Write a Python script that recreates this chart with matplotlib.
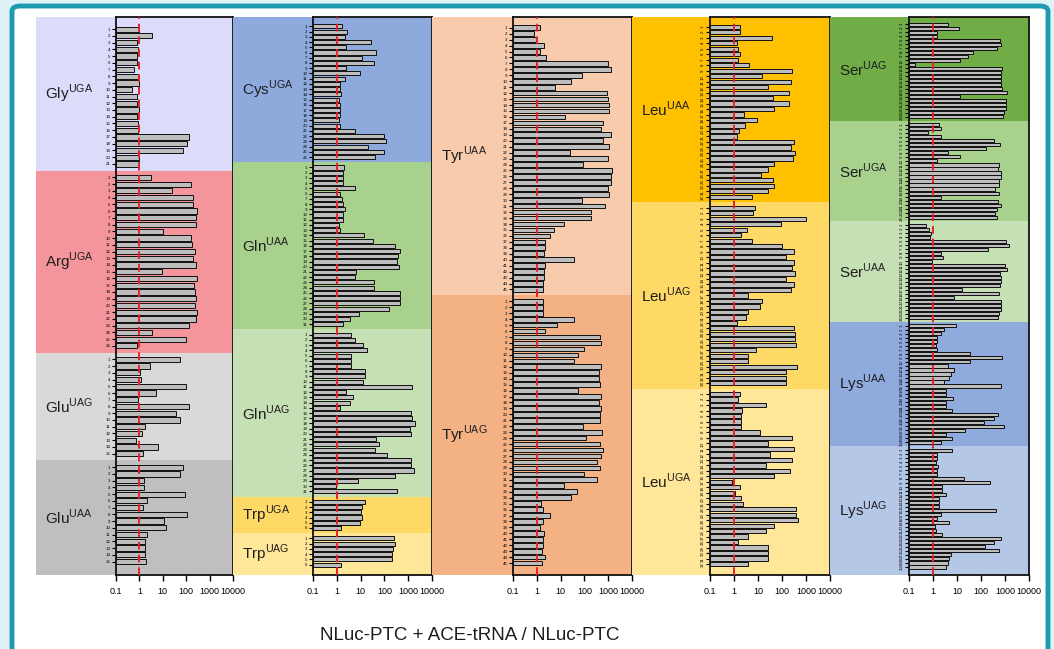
import matplotlib.pyplot as plt
import numpy as np
from matplotlib.patches import FancyBboxPatch
from matplotlib.transforms import blended_transform_factory

plt.rcParams['font.family'] = ['Liberation Sans', 'DejaVu Sans']

# ---- data (fold change) ----
gly_uga = [1.0, 3.5, 0.8, 0.9, 0.8, 0.8, 0.6, 0.9, 1.0, 0.5, 0.8, 0.8, 1.0, 0.8, 0.9,
           0.9, 130, 110, 75, 1.0, 1.0]
arg_uga = [3.2, 160, 25, 190, 190, 280, 270, 270, 10, 160, 180, 230, 200, 250, 9,
           280, 220, 230, 270, 240, 300, 250, 130, 3.5, 100, 0.8]
glu_uag = [57, 2.8, 1.1, 1.2, 100, 5, 0.9, 130, 37, 57, 1.8, 1.3, 0.7, 6, 1.4]
glu_uaa = [70, 57, 1.6, 1.5, 90, 2.1, 1.4, 110, 11, 14, 2.1, 1.8, 1.7, 1.7, 1.9]

cys_uga = [1.6, 2.8, 2.2, 27, 2.5, 44, 12, 35, 2.4, 9, 2.2, 1.3, 1.3, 1.5, 1.2, 1.3,
           1.3, 1.3, 1.2, 1.3, 6, 93, 120, 20, 100, 40]
gln_uaa = [2.1, 1.8, 1.8, 1.9, 6, 1.3, 1.6, 1.8, 2.2, 1.9, 1.8, 1.2, 1.3, 14, 32, 290,
           440, 370, 350, 410, 6.6, 5.8, 35, 37, 440, 440, 440, 160, 8.5, 3.7, 1.8]
gln_uag = [4, 6, 13, 18, 4, 4, 4, 15, 15, 13, 1400, 2.5, 5, 3.5, 1.4, 1300, 1500, 1900,
           1200, 1300, 45, 60, 40, 130, 1300, 1300, 1800, 280, 8, 0.9, 350]
trp_uga = [16, 12, 10, 11, 9, 1.5]
trp_uag = [250, 280, 240, 200, 200, 1.5]

tyr_uaa = [1.3, 0.8, 0.9, 2.1, 1.3, 2.5, 1000, 1250, 80, 27, 6, 850, 1000, 1100, 1100,
           16, 610, 520, 1250, 610, 1050, 25, 1000, 85, 1400, 1300, 1250, 950, 1100, 78,
           770, 190, 190, 14, 5.2, 3.7, 2.2, 2.2, 2.0, 35, 2.2, 2.0, 2.1, 1.9, 1.8]
tyr_uag = [1.8, 1.8, 1.8, 37, 7.2, 2.2, 440, 480, 93, 52, 35, 480, 410, 410, 440, 52,
           520, 410, 480, 440, 440, 85, 550, 120, 440, 610, 480, 350, 440, 93, 350, 14,
           49, 27, 1.5, 1.9, 3.5, 1.9, 1.3, 2.0, 1.9, 1.8, 1.6, 2.2, 1.6]

leu_uaa = [1.8, 1.8, 37, 1.3, 1.5, 1.8, 1.4, 4.1, 270, 15, 240, 27, 200, 41, 190, 45,
           2.5, 8.8, 3.0, 1.6, 1.3, 330, 240, 350, 300, 48, 25, 13, 41, 45, 25, 5.7]
leu_uag = [7.2, 6.3, 1000, 87, 3.5, 1.9, 5.7, 100, 330, 150, 330, 250, 350, 150, 330,
           240, 3.7, 15, 12, 3.7, 3.2, 1.3, 330, 350, 350, 370, 8, 4, 4, 420, 150, 150, 150]
leu_uga = [1.8, 1.5, 21, 2.1, 1.9, 1.9, 2.0, 12, 270, 27, 330, 32, 250, 21, 210, 45,
           0.8, 1.7, 1.1, 1.9, 2.3, 380, 380, 450, 45, 21, 4, 1.5, 27, 27, 25, 3.7]

ser_uag = [4.4, 12, 1.4, 1.4, 620, 650, 470, 47, 29, 13, 0.17, 760, 700, 700, 700, 700,
           760, 1250, 13, 1050, 1050, 1050, 900, 800]
ser_uga = [1.8, 2.1, 0.6, 2.1, 340, 620, 160, 4.4, 13, 1.4, 560, 510, 650, 650, 560,
           560, 400, 560, 2.1, 510, 650, 470, 400, 450]
ser_uaa = [0.5, 0.65, 0.85, 0.77, 1150, 1500, 200, 2.1, 2.5, 0.9, 1000, 1250, 620, 650,
           650, 620, 16, 560, 7.2, 650, 650, 650, 560, 500]
lys_uaa = [9.1, 2.8, 2.1, 1.5, 1.5, 1.3, 1.4, 34, 770, 34, 4.4, 7.7, 5.5, 4.7, 2.8, 650,
           3.4, 3.6, 6.5, 3.6, 3.4, 6.1, 500, 340, 130, 900, 21, 3.6, 6.1, 2.1]
lys_uag = [6.1, 1.5, 1.5, 1.3, 1.6, 1.4, 1.5, 19, 240, 2.4, 2.4, 3.4, 1.7, 1.7, 1.7, 440,
           2.1, 1.5, 4.7, 1.2, 1.3, 2.4, 650, 340, 150, 560, 5.5, 4.7, 4.4, 3.6]

columns = [
    [("Gly", "UGA", gly_uga, "#dcdcfa"), ("Arg", "UGA", arg_uga, "#f4959b"),
     ("Glu", "UAG", glu_uag, "#d9d9d9"), ("Glu", "UAA", glu_uaa, "#bfbfbf")],
    [("Cys", "UGA", cys_uga, "#8eaadc"), ("Gln", "UAA", gln_uaa, "#a9d18e"),
     ("Gln", "UAG", gln_uag, "#c5e0b4"), ("Trp", "UGA", trp_uga, "#ffd966"),
     ("Trp", "UAG", trp_uag, "#ffe699")],
    [("Tyr", "UAA", tyr_uaa, "#f8cbad"), ("Tyr", "UAG", tyr_uag, "#f4b183")],
    [("Leu", "UAA", leu_uaa, "#ffc000"), ("Leu", "UAG", leu_uag, "#ffd966"),
     ("Leu", "UGA", leu_uga, "#ffe699")],
    [("Ser", "UAG", ser_uag, "#70ad47"), ("Ser", "UGA", ser_uga, "#a9d18e"),
     ("Ser", "UAA", ser_uaa, "#c5e0b4"), ("Lys", "UAA", lys_uaa, "#8faadc"),
     ("Lys", "UAG", lys_uag, "#b4c7e7")],
]

# pixel layout: (colour left, axis left, axis right)
col_px = [(36, 116, 233), (233, 313, 432), (432, 513, 632), (632, 710, 830), (830, 909, 1029)]
rot_labels = [0, 0, 0, 90, 90]
W, H = 1054, 649
top_px, bot_px = 17, 575

fig = plt.figure(figsize=(W / 100, H / 100), dpi=100)
fig.patch.set_facecolor('#dff2f6')
frame = FancyBboxPatch((12 / W, -0.05), 1036 / W, 1.05 - 6 / H,
                       boxstyle='round,pad=0,rounding_size=0.008',
                       transform=fig.transFigure, facecolor='white',
                       edgecolor='#1f9bb0', linewidth=3.5, zorder=-10)
fig.patches.append(frame)

ax_bottom = 1 - bot_px / H
ax_height = (bot_px - top_px) / H

for ci, groups in enumerate(columns):
    cl, al, ar = col_px[ci]
    # slot positions, one empty slot between groups
    positions, pos = [], 0
    for g in groups:
        positions.append(np.arange(pos, pos + len(g[2])))
        pos += len(g[2]) + 1
    last = pos - 2
    ylim = (last + 2.0, -1.8)

    bg = fig.add_axes([cl / W, ax_bottom, (ar - cl) / W, ax_height])
    bg.set_xlim(0, 1)
    bg.set_ylim(*ylim)
    bg.axis('off')
    trans = blended_transform_factory(bg.transAxes, bg.transData)
    for gi, (aa, codon, vals, color) in enumerate(groups):
        y = positions[gi]
        y0 = ylim[1] if gi == 0 else y[0] - 1
        y1 = ylim[0] if gi == len(groups) - 1 else y[-1] + 1
        bg.axhspan(y0, y1, color=color, lw=0)
        bg.text(9 / (ar - cl), (y0 + y1) / 2, aa + r'$^{\mathregular{' + codon + '}}$',
                transform=trans, ha='left', va='center', fontsize=11, color='#1e1e1e')

    ax = fig.add_axes([al / W, ax_bottom, (ar - al) / W, ax_height])
    ax.patch.set_alpha(0)
    ax.set_xscale('log')
    ax.set_xlim(0.1, 10000)
    ax.set_ylim(*ylim)
    ticks, labels = [], []
    for gi, (aa, codon, vals, color) in enumerate(groups):
        y = positions[gi]
        v = np.array(vals, dtype=float)
        ax.barh(y, v - 0.1, left=0.1, height=0.78, color='#bdbdbd',
                edgecolor='#111111', linewidth=0.7, zorder=2)
        ticks.extend(y)
        labels.extend(str(i + 1) for i in range(len(vals)))
    ax.axvline(1, color='#e8212b', lw=1.4, ls=(0, (4, 2.5)), zorder=3)
    ax.set_yticks(ticks)
    ax.set_yticklabels(labels, fontsize=3.2, rotation=rot_labels[ci])
    ax.tick_params(axis='y', length=3, width=0.8, pad=1)
    ax.set_xticks([0.1, 1, 10, 100, 1000, 10000])
    ax.set_xticklabels(['0.1', '1', '10', '100', '1000', '10000'], fontsize=6.5)
    ax.xaxis.set_minor_locator(plt.NullLocator())
    ax.tick_params(axis='x', length=4, width=1, pad=5)
    for s in ax.spines.values():
        s.set_linewidth(1.3)
        s.set_color('#111111')

fig.text(470 / W, 1 - 636 / H, 'NLuc-PTC + ACE-tRNA / NLuc-PTC', ha='center',
         va='center', fontsize=13.5, color='#1e1e1e')

fig.savefig('out.png', dpi=100, facecolor=fig.get_facecolor())
